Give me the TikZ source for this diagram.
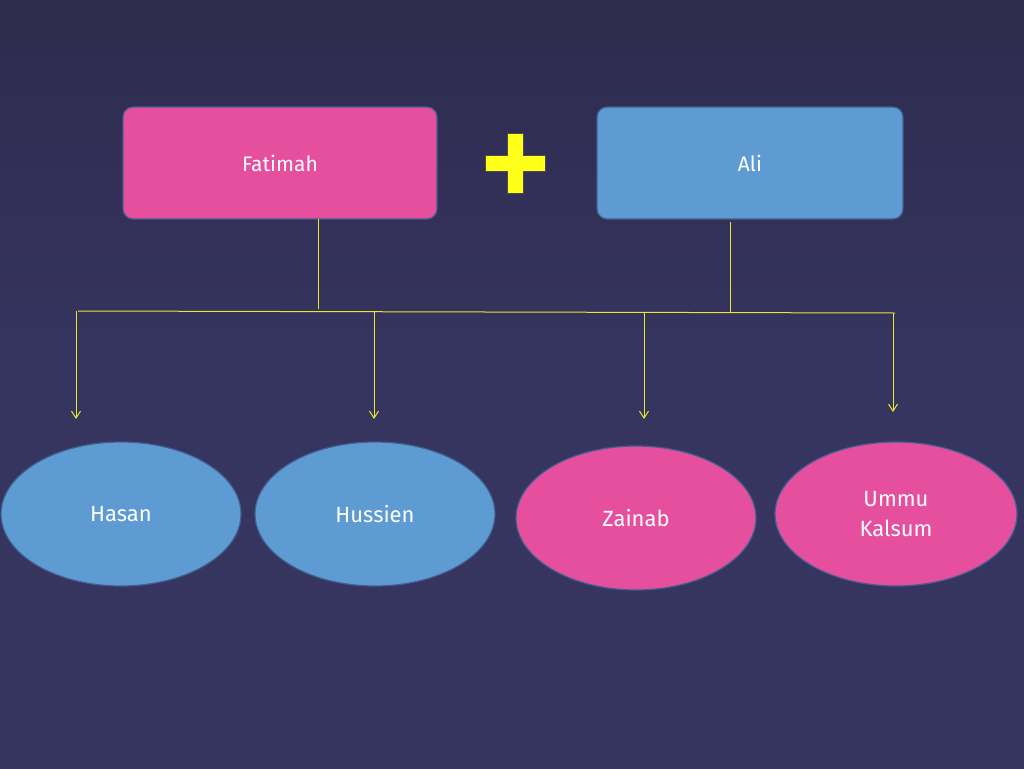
\documentclass[tikz,border=0pt]{standalone}
\usepackage{fontspec}
\setmainfont{Fira Sans}
\usetikzlibrary{shapes.geometric,arrows.meta}
\definecolor{bgtop}{HTML}{2E2B4E}
\definecolor{bgmid}{HTML}{363560}
\definecolor{pinkf}{HTML}{E54F9E}
\definecolor{bluef}{HTML}{5E9BD2}
\definecolor{edge}{HTML}{3F5F8F}
\definecolor{yel}{HTML}{E8E830}
\definecolor{plus}{HTML}{FFFF1A}
\tikzset{
  box/.style={draw=edge,line width=1.2pt,rounded corners=10pt,minimum width=#1,minimum height=112pt,font=\fontsize{21}{24}\selectfont,text=white},
  oval/.style={ellipse,draw=edge,line width=1.2pt,minimum width=240pt,minimum height=144pt,font=\fontsize{22}{30}\selectfont,text=white,align=center},
  yl/.style={draw=yel,line width=1pt},
  arr/.style={yl,-{Straight Barb[length=7pt,width=9pt]}}
}
\begin{document}
\begin{tikzpicture}[x=1pt,y=-1pt]
\useasboundingbox (0,0) rectangle (1024,768);
\shade[top color=bgtop,bottom color=bgmid,middle color=bgmid] (0,0) rectangle (1024,768);
\node[box=314pt,fill=pinkf] (fat) at (280,163) {Fatimah};
\node[box=306pt,fill=bluef] (ali) at (750,163) {Ali};
\fill[plus,draw=black!70,line width=1pt] (507,133) -- (523,133) -- (523,155) -- (545,155) -- (545,171) -- (523,171) -- (523,193) -- (507,193) -- (507,171) -- (485,171) -- (485,155) -- (507,155) -- cycle;
\node[oval,fill=bluef] (has) at (121,514) {Hasan};
\node[oval,fill=bluef] (hus) at (375,514) {Hussien};
\node[oval,fill=pinkf] (zai) at (636,518) {Zainab};
\node[oval,fill=pinkf,minimum width=242pt] (umm) at (896,514) {Ummu\\Kalsum};
\coordinate (fj) at (318,309);
\coordinate (aj) at (730,312);
\coordinate (hl) at (78,311);
\coordinate (hr) at (895,313);
\draw[yl] (318,219) -- (fj);
\draw[yl] (730,222) -- (aj);
\draw[yl] (hl) -- (hr);
\draw[arr] (76,311) -- (76,419);
\draw[arr] (374,312) -- (374,419);
\draw[arr] (644,312) -- (644,419);
\draw[arr] (893,313) -- (893,412);
\end{tikzpicture}
\end{document}
